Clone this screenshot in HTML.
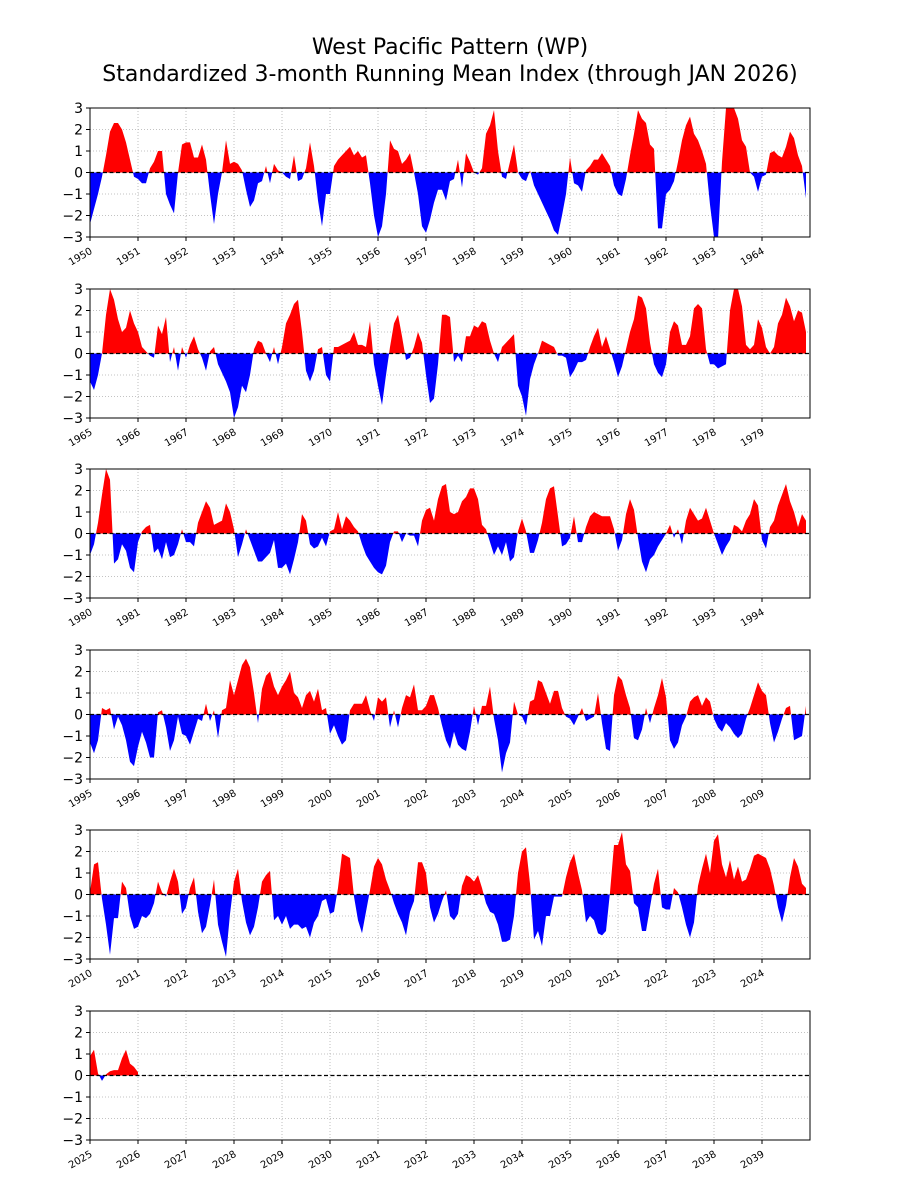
<!DOCTYPE html>
<html><head><meta charset="utf-8"><style>
body{margin:0;background:#fff;}
svg{display:block;font-family:"DejaVu Sans","Liberation Sans",sans-serif;}
</style></head><body>
<svg id="chart" width="900" height="1200" viewBox="0 0 900 1200" xmlns="http://www.w3.org/2000/svg">
<text x="450" y="54" text-anchor="middle" font-size="22">West Pacific Pattern (WP)</text>
<text x="450" y="81" text-anchor="middle" font-size="22">Standardized 3-month Running Mean Index (through JAN 2026)</text>
</svg>
<script>
const panelStartYears = [1950,1965,1980,1995,2010,2025];
const yTicks = [-3,-2,-1,0,1,2,3];
const vals1950 = [
-2.4,-1.7,-1.0,-0.2,0.8,1.9,2.3,2.3,2.0,1.4,0.6,-0.2,
-0.3,-0.5,-0.5,0.2,0.5,1.0,1.0,-1.0,-1.5,-1.9,0.0,1.3,
1.4,1.4,0.7,0.7,1.3,0.6,-1.0,-2.4,-1.0,0.0,1.5,0.4,
0.5,0.4,0.1,-0.8,-1.6,-1.3,-0.5,-0.4,0.3,-0.5,0.4,0.1,
0.0,-0.2,-0.3,0.8,-0.4,-0.3,0.2,1.4,0.3,-1.3,-2.5,-1.0,
-1.0,0.3,0.6,0.8,1.0,1.2,0.8,1.0,0.7,0.8,-0.5,-2.0,
-3.0,-2.5,-1.0,1.5,1.1,1.0,0.4,0.6,0.9,0.0,-1.0,-2.5,
-2.8,-2.2,-1.4,-0.8,-0.8,-1.3,-0.4,-0.3,0.6,-0.7,0.9,0.5,
0.0,-0.1,0.2,1.8,2.2,2.9,1.0,-0.2,-0.3,0.5,1.3,0.0,
-0.3,-0.4,0.1,-0.6,-1.0,-1.4,-1.8,-2.2,-2.7,-2.9,-2.0,-1.0,
0.7,-0.5,-0.6,-0.9,0.1,0.3,0.6,0.6,0.9,0.6,0.3,-0.6,
-1.0,-1.1,-0.3,0.8,1.8,2.9,2.5,2.3,1.3,1.1,-2.6,-2.6,
-1.0,-0.8,-0.4,0.5,1.5,2.2,2.6,1.8,1.5,1.0,0.4,-1.5,
-3.0,-3.1,0.5,3.0,3.0,3.0,2.5,1.5,1.2,0.0,-0.2,-0.9,
-0.2,-0.1,0.9,1.0,0.8,0.7,1.2,1.9,1.6,0.8,0.3,-1.2];
const vals1965 = [
-1.3,-1.7,-1.0,0.0,1.8,3.0,2.5,1.6,1.0,1.2,2.0,1.4,
1.0,0.3,0.1,-0.1,-0.2,1.3,0.9,1.7,-0.4,0.3,-0.8,0.3,
-0.2,0.4,0.8,0.2,-0.2,-0.8,0.1,0.3,-0.5,-0.9,-1.3,-1.8,
-3.0,-2.5,-1.5,-1.8,-1.0,0.2,0.6,0.5,0.0,-0.4,0.3,-0.5,
0.3,1.4,1.8,2.3,2.5,1.0,-0.8,-1.3,-0.8,0.2,0.3,-1.0,
-1.3,0.3,0.3,0.4,0.5,0.6,1.0,0.4,0.4,0.3,1.5,-0.5,
-1.5,-2.4,-1.0,0.3,1.4,1.8,0.8,-0.3,-0.2,0.3,1.0,0.5,
-1.0,-2.3,-2.1,-0.5,1.8,1.8,1.7,-0.4,-0.1,-0.4,0.8,0.8,
1.3,1.2,1.5,1.4,0.6,0.0,-0.4,0.3,0.5,0.7,0.9,-1.5,
-2.0,-2.9,-1.2,-0.5,0.0,0.6,0.5,0.4,0.3,-0.1,-0.1,-0.2,
-1.1,-0.8,-0.4,-0.4,-0.3,0.3,0.8,1.2,0.3,0.8,0.2,-0.4,
-1.1,-0.6,0.2,1.0,1.6,2.7,2.6,2.1,0.5,-0.5,-0.9,-1.1,
-0.5,1.0,1.5,1.3,0.4,0.4,0.8,2.1,2.3,2.1,0.2,-0.5,
-0.5,-0.7,-0.6,-0.5,2.0,3.0,3.0,2.2,0.4,0.2,0.4,1.6,
1.2,0.3,0.0,0.3,1.4,1.8,2.6,2.2,1.5,2.0,1.9,1.0];
const vals1980 = [
-1.0,-0.5,0.5,1.8,3.0,2.5,-1.4,-1.2,-0.5,-0.8,-1.6,-1.8,
-0.4,0.1,0.3,0.4,-0.9,-0.7,-1.2,-0.4,-1.1,-1.0,-0.5,0.2,
-0.4,-0.4,-0.6,0.5,1.0,1.5,1.2,0.4,0.5,0.6,1.4,1.0,
0.2,-1.1,-0.5,0.2,-0.3,-0.8,-1.3,-1.3,-1.1,-0.9,-0.3,-1.6,
-1.6,-1.4,-1.9,-1.2,-0.4,0.9,0.6,-0.5,-0.7,-0.6,-0.2,-0.6,
0.1,0.2,1.0,0.2,0.8,0.6,0.3,0.1,-0.5,-1.0,-1.3,-1.6,
-1.8,-1.9,-1.5,-0.4,0.1,0.1,-0.4,0.0,-0.1,-0.1,-0.6,0.6,
1.1,1.2,0.6,1.6,2.2,2.3,1.0,0.9,1.0,1.5,1.7,2.1,
2.1,1.6,0.4,0.2,-0.4,-1.0,-0.6,-1.0,-0.4,-1.3,-1.1,0.1,
0.7,0.1,-0.9,-0.9,-0.3,0.5,1.6,2.1,2.2,0.8,-0.6,-0.5,
-0.2,0.8,-0.4,-0.4,0.3,0.8,1.0,0.9,0.8,0.8,0.8,0.2,
-0.8,-0.3,0.9,1.6,1.1,-0.2,-1.3,-1.8,-1.2,-1.0,-0.6,-0.3,
0.0,0.4,-0.2,0.2,-0.5,0.6,1.2,0.9,0.6,0.7,1.2,0.6,
0.0,-0.5,-1.0,-0.6,-0.3,0.4,0.3,0.1,0.6,0.9,1.6,1.3,
-0.3,-0.7,0.3,0.6,1.3,1.8,2.3,1.5,1.0,0.3,0.9,0.6];
const vals1995 = [
-1.3,-1.8,-1.2,0.3,0.2,0.3,-0.7,-0.1,-0.5,-1.2,-2.2,-2.4,
-1.5,-0.8,-1.3,-2.0,-2.0,0.1,0.2,-0.6,-1.7,-1.2,-0.1,-0.9,
-1.0,-1.4,-0.8,-0.2,-0.3,0.5,-0.3,0.2,-1.1,0.2,0.3,1.6,
0.9,1.6,2.3,2.6,2.2,1.0,-0.4,1.2,1.8,2.0,1.3,0.9,
1.3,1.6,2.0,1.0,0.8,0.3,0.9,1.1,0.6,1.2,0.2,0.3,
-0.9,-0.5,-1.0,-1.4,-1.2,0.2,0.5,0.5,0.5,0.9,0.2,-0.3,
0.8,0.6,0.8,-0.6,0.2,-0.6,0.3,0.9,0.8,1.4,0.2,0.2,
0.4,0.9,0.9,0.3,-0.5,-1.2,-1.6,-0.8,-1.4,-1.6,-1.7,-0.8,
0.4,-0.5,0.4,0.4,1.3,-0.2,-1.2,-2.7,-1.8,-1.3,0.6,0.0,
-0.1,-0.5,0.6,0.7,1.6,1.5,1.0,0.5,1.1,1.1,0.3,-0.1,
-0.2,-0.5,-0.1,0.3,-0.3,-0.2,-0.1,1.0,-0.4,-1.6,-1.7,0.9,
1.8,1.6,0.9,0.3,-1.1,-1.2,-0.7,0.3,-0.4,0.3,0.9,1.7,
0.8,-1.2,-1.6,-1.3,-0.5,-0.1,0.6,0.8,0.9,0.4,0.8,0.6,
-0.2,-0.6,-0.8,-0.4,-0.6,-0.9,-1.1,-0.9,-0.2,0.3,0.9,1.5,
1.1,0.9,-0.4,-1.3,-0.8,-0.2,0.3,0.4,-1.2,-1.1,-1.0,0.4];
const vals2010 = [
0.1,1.4,1.5,-0.2,-1.4,-2.8,-1.1,-1.1,0.6,0.3,-1.0,-1.6,
-1.5,-1.0,-1.1,-0.9,-0.4,0.6,0.1,-0.1,0.6,1.2,0.6,-0.9,
-0.6,0.3,0.8,-0.8,-1.8,-1.5,-0.5,0.7,-1.4,-2.2,-2.9,-0.9,
0.6,1.2,-0.3,-1.3,-1.9,-1.5,-0.6,0.6,0.9,1.1,-1.2,-1.0,
-1.4,-1.0,-1.6,-1.4,-1.4,-1.6,-1.5,-2.0,-1.3,-1.0,-0.3,-0.2,
-0.9,-0.8,0.3,1.9,1.8,1.7,-0.1,-1.2,-1.8,-0.8,0.2,1.3,
1.7,1.4,0.7,0.2,-0.4,-0.9,-1.3,-1.9,-0.8,-0.3,1.5,1.5,
1.0,-0.6,-1.3,-0.9,-0.3,0.2,-1.0,-1.2,-0.9,0.4,0.9,0.8,
0.6,0.9,0.3,-0.4,-0.8,-0.9,-1.4,-2.2,-2.2,-2.1,-1.0,1.0,
2.0,2.2,0.5,-2.1,-1.7,-2.4,-1.0,-1.0,-0.1,-0.1,-0.1,0.8,
1.5,1.9,1.0,0.2,-1.3,-1.0,-1.2,-1.8,-1.9,-1.7,0.1,2.3,
2.3,2.9,1.4,1.1,-0.4,-0.6,-1.7,-1.7,-0.6,0.5,1.2,-0.6,
-0.7,-0.7,0.3,0.1,-0.6,-1.4,-2.0,-1.3,0.4,1.2,1.9,1.0,
2.5,2.8,1.4,0.8,1.6,0.7,1.3,0.6,0.7,1.2,1.8,1.9,
1.8,1.7,1.2,0.4,-0.6,-1.3,-0.5,0.8,1.7,1.3,0.5,0.3];
const vals2025 = [0.9,1.2,0.1,-0.25,0.05,0.2,0.25,0.25,0.8,1.2,0.55,0.4,0.15];

const allVals = [].concat(vals1950, vals1965, vals1980, vals1995, vals2010, vals2025);
const svg = document.getElementById('chart');
const NS = 'http://www.w3.org/2000/svg';
const X0 = 90, W = 720, H = 129;
const panelTops = [108,289,469,650,830,1011];
function mk(tag, attrs){const e=document.createElementNS(NS,tag);for(const k in attrs)e.setAttribute(k,attrs[k]);return e;}
function xScale(monthIdx){return X0 + monthIdx*(W/180);}
function yScale(top,v){return top + (3 - v)*(H/6);}

panelStartYears.forEach((sy,p)=>{
  const top = panelTops[p];
  const g = mk('g',{});
  
  
  svg.appendChild(g);
  for(let k=0;k<15;k++){
    const x=xScale(k*12);
    const gl=mk('line',{x1:x,x2:x,y1:top,y2:top+H,stroke:'#b0b0b0','stroke-width':0.8,'stroke-dasharray':'1,2'});
    
    
    g.appendChild(gl);
  }
  yTicks.forEach(t=>{
    const y=yScale(top,t);
    const gl=mk('line',{x1:X0,x2:X0+W,y1:y,y2:y,stroke:'#b0b0b0','stroke-width':0.8,'stroke-dasharray':'1,2'});
    
    
    g.appendChild(gl);
  });
  const start=p*180;
  const seg=allVals.slice(start,start+180);
  if(seg.length){
    const y0=yScale(top,0);
    let d='M'+xScale(0)+','+y0;
    seg.forEach((v,i)=>{d+=' L'+xScale(i).toFixed(2)+','+yScale(top,v).toFixed(2);});
    d+=' L'+xScale(seg.length-1).toFixed(2)+','+y0+' Z';
    const cpA=mk('clipPath',{id:'ca'+p});cpA.appendChild(mk('rect',{x:X0,y:top,width:W,height:y0-top}));
    const cpB=mk('clipPath',{id:'cb'+p});cpB.appendChild(mk('rect',{x:X0,y:y0,width:W,height:top+H-y0}));
    g.appendChild(cpA);g.appendChild(cpB);
    const pos=mk('path',{d:d,fill:'#ff0000','clip-path':'url(#ca'+p+')'});
    
    
    g.appendChild(pos);
    const neg=mk('path',{d:d,fill:'#0000ff','clip-path':'url(#cb'+p+')'});
    
    
    g.appendChild(neg);
  }
  const zl=mk('line',{x1:X0,x2:X0+W,y1:yScale(top,0),y2:yScale(top,0),stroke:'#000','stroke-width':1.2,'stroke-dasharray':'4,2.5'});
  
  
  g.appendChild(zl);
  const fr=mk('rect',{x:X0,y:top,width:W,height:H,fill:'none',stroke:'#000','stroke-width':1});
  
  
  g.appendChild(fr);
  yTicks.forEach(t=>{
    const y=yScale(top,t);
    g.appendChild(mk('line',{x1:X0-4,x2:X0,y1:y,y2:y,stroke:'#000','stroke-width':1}));
    const tx=mk('text',{x:X0-7,y:y+5,'text-anchor':'end','font-size':14});
    
    
    tx.textContent=(t<0?'\u2212'+(-t):String(t));
    g.appendChild(tx);
  });
  for(let k=0;k<15;k++){
    const x=xScale(k*12);
    g.appendChild(mk('line',{x1:x,x2:x,y1:top+H,y2:top+H+4,stroke:'#000','stroke-width':1}));
    const tx=mk('text',{x:x+3,y:top+H+16,'text-anchor':'end','font-size':10,transform:'rotate(-30 '+(x+3)+' '+(top+H+16)+')'});
    
    
    tx.textContent=String(sy+k);
    g.appendChild(tx);
  }
});
</script>
</body></html>
